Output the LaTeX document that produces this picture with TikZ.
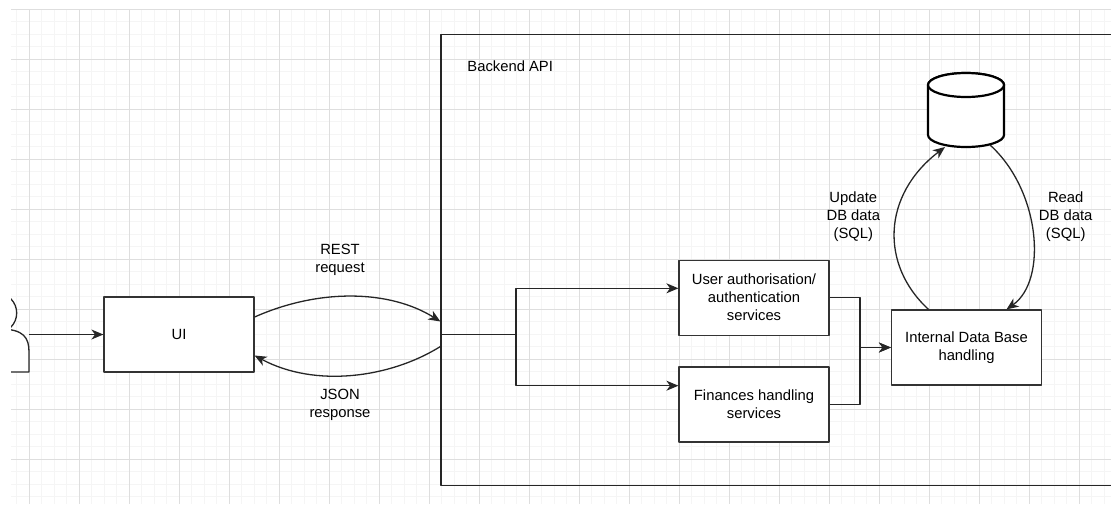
\documentclass[tikz,border=0pt]{standalone}
\usepackage{fontspec}
\setmainfont{Liberation Sans}
\usetikzlibrary{arrows.meta}

\tikzset{
	box/.style={draw=black!80, line width=0.6pt, fill=white, minimum width=75pt, minimum height=37.5pt, align=center, inner sep=1pt},
	link/.style={draw=black!85, line width=0.65pt},
	note/.style={align=center, inner sep=0pt},
	dbline/.style={draw=black, line width=1.1pt, fill=white},
	minorgrid/.style={draw=black!4, line width=0.5pt},
	majorgrid/.style={draw=black!13, line width=0.5pt}
}

\begin{document}
\begin{tikzpicture}[x=0.5pt, y=-0.5pt, font=\fontsize{7.4}{9}\selectfont, line join=round, >={Stealth[length=6pt, width=5pt, inset=1.8pt]}]
	\useasboundingbox (0,0) rectangle (1111,504);
	% background grid
	\foreach \i in {0,...,87}
	\draw[minorgrid] ({16.8+12.5*\i},9) -- ({16.8+12.5*\i},504);
	\foreach \j in {0,...,39}
	\draw[minorgrid] (11,{9+12.5*\j}) -- (1111,{9+12.5*\j});
	\foreach \i in {0,...,21}
	\draw[majorgrid] ({29.3+50*\i},9) -- ({29.3+50*\i},504);
	\foreach \j in {0,...,9}
	\draw[majorgrid] (11,{9+50*\j}) -- (1111,{9+50*\j});
	% user, cut at the left edge
	\begin{scope}
		\clip (11,0) rectangle (60,504);
		\draw[link, fill=white] (-3.3,313) circle[radius=10pt];
		\draw[link, fill=white] (0,329) .. controls (24,329) and (29,338) .. (29,352) -- (29,372) -- (0,372);
	\end{scope}
	\coordinate (user) at (29,334.5);
	% backend frame, running past the right edge
	\begin{scope}
		\clip (0,0) rectangle (1111,504);
		\node[draw=black!85, line width=0.6pt, minimum width=349.5pt, minimum height=225.5pt, inner sep=0] (api) at (790.5,260) {};
	\end{scope}
	\node[right, inner sep=0] (apilabel) at (467,66) {Backend API};
	% boxes
	\node[box] (ui) at (179,334.5) {UI};
	\node[box] (auth) at (754,297.7) {User authorisation/\\authentication\\services};
	\node[box] (fin) at (754,404.5) {Finances handling\\services};
	\node[box] (idb) at (966.5,347.5) {Internal Data Base\\handling};
	% data base
	\node[minimum width=38pt, minimum height=37pt, inner sep=0] (db) at (966,110) {};
	\filldraw[dbline] (928,85) -- (928,135) arc[start angle=180, end angle=360, x radius=19pt, y radius=6pt] -- (1004,85) arc[start angle=0, end angle=180, x radius=19pt, y radius=6pt] -- cycle;
	\draw[dbline] (966,85) ellipse[x radius=19pt, y radius=6pt];
	\coordinate (dbin) at (945,147);
	\coordinate (dbout) at (990,145);
	% connectors
	\coordinate (gate) at (api.west |- ui.east);
	\coordinate (split) at (516,334.5);
	\coordinate (merge) at (860,347.5);
	\draw[link, ->] (user) -- (ui);
	\draw[link, ->] ([yshift=8.75pt]ui.east) .. controls (320,288) and (390,290) .. ([yshift=6.5pt]gate);
	\draw[link, ->] ([yshift=-6pt]gate) .. controls (390,378) and (315,388) .. ([yshift=-10.5pt]ui.east);
	\draw[link] (gate) -- (split);
	\draw[link, ->] (split) |- ([yshift=4.7pt]auth.west);
	\draw[link, ->] (split) |- ([yshift=9.4pt]fin.west);
	\draw[link, ->] (auth.east) -| (merge) -- (idb.west);
	\draw[link, ->] (fin.east) -| (merge) -- (idb.west);
	\draw[link, ->] ([xshift=-19pt]idb.north) .. controls (880,265) and (882,195) .. (dbin);
	\draw[link, ->] (dbout) .. controls (1040,190) and (1048,280) .. ([xshift=20pt]idb.north);
	% labels
	\node[note] (rest) at (340,260.3) {REST\\request};
	\node[note] (json) at (340,404.4) {JSON\\response};
	\node[note] (update) at (853.3,216.5) {Update\\DB data\\(SQL)};
	\node[note] (read) at (1065.7,216.5) {Read\\DB data\\(SQL)};
\end{tikzpicture}
\end{document}
